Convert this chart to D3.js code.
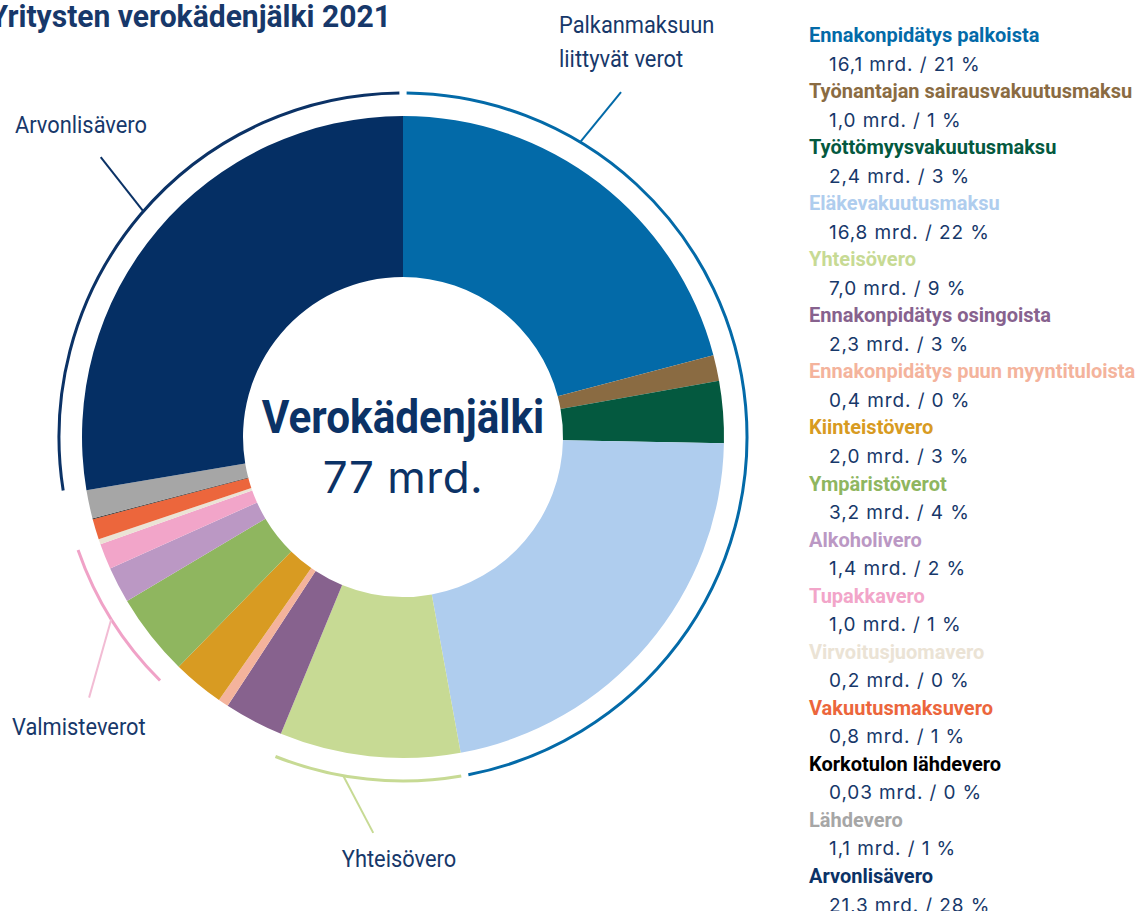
<!DOCTYPE html>
<html>
<head>
<meta charset="utf-8">
<script src="https://cdn.jsdelivr.net/npm/d3@7"></script>
<style>
  body { margin: 0; background: #fff; }
  svg { display: block; }
  text { font-family: Roboto, "Liberation Sans", sans-serif; }
  .num { font-family: Inter, "DejaVu Sans", sans-serif; }
</style>
</head>
<body>
<svg id="chart" width="1145" height="911"></svg>
<script>
// data (billions of euros, 2021)
const categories = [
  "Ennakonpidätys palkoista", "Työnantajan sairausvakuutusmaksu", "Työttömyysvakuutusmaksu",
  "Eläkevakuutusmaksu", "Yhteisövero", "Ennakonpidätys osingoista",
  "Ennakonpidätys puun myyntituloista", "Kiinteistövero", "Ympäristöverot", "Alkoholivero",
  "Tupakkavero", "Virvoitusjuomavero", "Vakuutusmaksuvero", "Korkotulon lähdevero",
  "Lähdevero", "Arvonlisävero"
];
const values = [16.1, 1.0, 2.4, 16.8, 7.0, 2.3, 0.4, 2.0, 3.2, 1.4, 1.0, 0.2, 0.8, 0.03, 1.1, 21.3];
const shares = [21, 1, 3, 22, 9, 3, 0, 3, 4, 2, 1, 0, 1, 0, 1, 28];
const colors = [
  "#036aa8", "#8a6b42", "#04593f", "#afcdee", "#c7da94", "#87628e", "#f4b39c", "#d89b22",
  "#8fb65f", "#bb98c4", "#f2a5c9", "#ebe3d5", "#ec663c", "#111111", "#a6a6a6", "#052f64"
];
const legendColors = colors.map((c, i) => i === 15 ? "#0b3266" : i === 13 ? "#000000" : c);

// groups drawn as brackets outside the ring
const groupNames = [["Palkanmaksuun", "liittyvät verot"], ["Yhteisövero"], ["Valmisteverot"], ["Arvonlisävero"]];
const groupFirst = [0, 4, 8, 15];
const groupLast = [3, 4, 11, 15];

const navy = "#17386a";
const cx = 403, cy = 437;
const rInner = 160, rOuter = 321, rBracket = 344;
const svg = d3.select("#chart");

// title
svg.append("text")
  .attr("transform", "translate(391,27) scale(0.97,1)")
  .attr("text-anchor", "end")
  .attr("font-size", 31).attr("font-weight", 700)
  .attr("fill", navy)
  .text("Yritysten verokädenjälki 2021");

// donut
const pie = d3.pie().sort(null).value(d => d.value);
const data = categories.map((c, i) => ({name: c, value: values[i], color: colors[i]}));
const arcs = pie(data);
const arc = d3.arc().innerRadius(rInner).outerRadius(rOuter);

const donut = svg.append("g").attr("transform", "translate(" + cx + "," + cy + ")");
donut.append("g").selectAll("path")
  .data(arcs)
  .join("path")
  .attr("d", arc)
  .attr("fill", d => d.data.color);

// brackets
const deg = Math.PI / 180;
const pad = 0.6 * deg;
const polar = (a, r) => [r * Math.sin(a), -r * Math.cos(a)];

const bracketColors = ["#036aa8", "#c7da94", "#f0a2c7", "#0b3266"];
const leaderColors = ["#036aa8", "#c7da94", "#f2bcd4", "#0b3266"];
// leader: angle on the bracket, angle and radius of the free end
const leaderStart = [31, 190, 238, 311];
const leaderEnd = [[32.3, 408], [184.3, 397], [230.3, 408], [312.8, 412]];

const brackets = donut.append("g");
groupNames.forEach((name, g) => {
  const a0 = arcs[groupFirst[g]].startAngle + pad;
  const a1 = arcs[groupLast[g]].endAngle - pad;
  const p = d3.path();
  p.arc(0, 0, rBracket, a0 - Math.PI / 2, a1 - Math.PI / 2);
  brackets.append("path")
    .attr("d", p.toString())
    .attr("fill", "none")
    .attr("stroke", bracketColors[g])
    .attr("stroke-width", 3);

  const s = polar(leaderStart[g] * deg, rBracket);
  const e = polar(leaderEnd[g][0] * deg, leaderEnd[g][1]);
  brackets.append("line")
    .attr("x1", s[0]).attr("y1", s[1])
    .attr("x2", e[0]).attr("y2", e[1])
    .attr("stroke", leaderColors[g])
    .attr("stroke-width", 2);
});

// bracket labels (condensed look)
const labelPos = [[559, 33, "start"], [399, 867, "middle"], [12, 735, "start"], [15, 133, "start"]];
groupNames.forEach((lines, g) => {
  const t = svg.append("text")
    .attr("transform", "translate(" + labelPos[g][0] + "," + labelPos[g][1] + ") scale(0.91,1)")
    .attr("text-anchor", labelPos[g][2])
    .attr("font-size", 24)
    .attr("fill", navy);
  lines.forEach((ln, k) => {
    t.append("tspan").attr("x", 0).attr("dy", k === 0 ? 0 : 34).text(ln);
  });
});

// centre
const total = d3.sum(values);
svg.append("text")
  .attr("transform", "translate(" + cx + "," + (cy - 4) + ") scale(0.92,1)")
  .attr("text-anchor", "middle")
  .attr("font-size", 46).attr("font-weight", 700)
  .attr("fill", "#0b3266")
  .text("Verokädenjälki");
svg.append("text")
  .attr("class", "num")
  .attr("x", cx).attr("y", cy + 56)
  .attr("text-anchor", "middle")
  .attr("font-size", 44)
  .attr("letter-spacing", 0.5)
  .attr("fill", "#0b3266")
  .text(Math.round(total) + " mrd.");

// legend
const y = d3.scalePoint().domain(categories).range([42, 883]);
const fmt = v => (v < 0.1 ? d3.format(".2f")(v) : d3.format(".1f")(v)).replace(".", ",");
const legend = svg.append("g");
categories.forEach((c, i) => {
  legend.append("text")
    .attr("x", 809).attr("y", y(c))
    .attr("font-size", 20).attr("font-weight", 700)
    .attr("fill", legendColors[i])
    .text(c);
  legend.append("text")
    .attr("class", "num")
    .attr("x", 829).attr("y", y(c) + 28.5)
    .attr("font-size", 19)
    .attr("letter-spacing", 0.9)
    .attr("fill", navy)
    .text(fmt(values[i]) + " mrd. / " + shares[i] + " %");
});
</script>
</body>
</html>
